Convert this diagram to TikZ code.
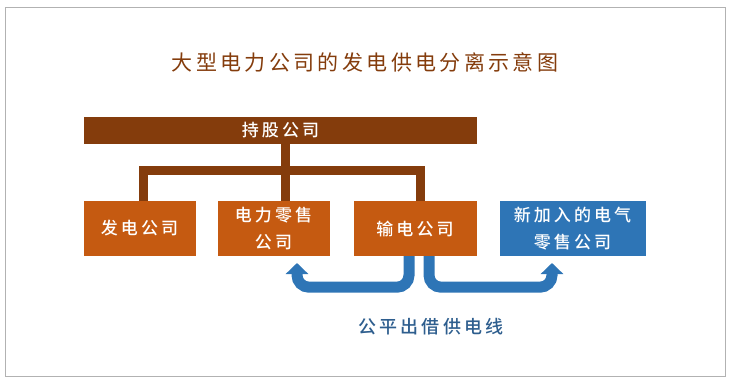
\documentclass[tikz,border=0pt]{standalone}
\usepackage{fontspec}
\usetikzlibrary{arrows.meta}

\newfontfamily\cjk[LetterSpace=18]{Noto Sans CJK SC Medium}
\newfontfamily\cjktitle[LetterSpace=16]{Noto Sans CJK SC}

\definecolor{barbrown}{HTML}{843C0C}
\definecolor{boxorange}{HTML}{C55A11}
\definecolor{boxblue}{HTML}{2E75B6}
\definecolor{labelblue}{HTML}{2E5E8E}

\tikzset{
    company/.style={fill=boxorange, text=white, minimum width=112pt, minimum height=55pt,
        inner sep=0pt, align=center, font=\cjk\fontsize{17}{27}\selectfont},
    tree/.style={draw=barbrown, line width=9pt},
    feed/.style={draw=boxblue, line width=11pt, rounded corners=12pt,
        -{Triangle[width=22pt,length=11pt]}}
}

\begin{document}
\begin{tikzpicture}[x=1pt, y=-1pt]
    % Define the page and its frame
    \useasboundingbox (0,0) rectangle (730,383);
    \draw[black!30, line width=1pt] (5,7) rectangle (725,376);

    % Place the title
    \node (title) at (365,62) [text=barbrown, font=\cjktitle\fontsize{21}{24}\selectfont] {大型电力公司的发电供电分离示意图};

    % Draw the holding company and the companies below it
    \node (hold) at (280.5,130.5) [company, fill=barbrown, minimum width=393pt, minimum height=27pt] {持股公司};
    \node (gen) at (139.5,228.5) [company] {发电公司};
    \node (retail) at (273.5,228.5) [company] {电力零售\\公司};
    \node (trans) at (415,228.5) [company, minimum width=123pt] {输电公司};
    \node (newretail) at (572.5,228.5) [company, fill=boxblue, minimum width=146pt] {新加入的电气\\零售公司};

    % Define the points of the tree
    \coordinate (jl) at (143,170);
    \coordinate (jc) at (285,170);
    \coordinate (jr) at (420,170);

    % Draw the tree
    \draw[tree] (hold.south -| jc) -- (retail.north -| jc);
    \draw[tree, line cap=rect] (jl) -- (jr);
    \draw[tree] (jl) -- (gen.north -| jl);
    \draw[tree] (jr) -- (trans.north -| jr);

    % Define the arrow tips
    \coordinate (tl) at (297,263);
    \coordinate (tr) at (552,263);

    % Draw the lines lent out
    \draw[feed] ([xshift=-6pt]trans.south) -- ++(0,31) -| (tl);
    \draw[feed] ([xshift=14pt]trans.south) -- ++(0,31) -| (tr);

    % Place the label
    \node (lend) at (431,327) [text=labelblue, font=\cjk\fontsize{18}{22}\selectfont] {公平出借供电线};

\end{tikzpicture}
\end{document}
